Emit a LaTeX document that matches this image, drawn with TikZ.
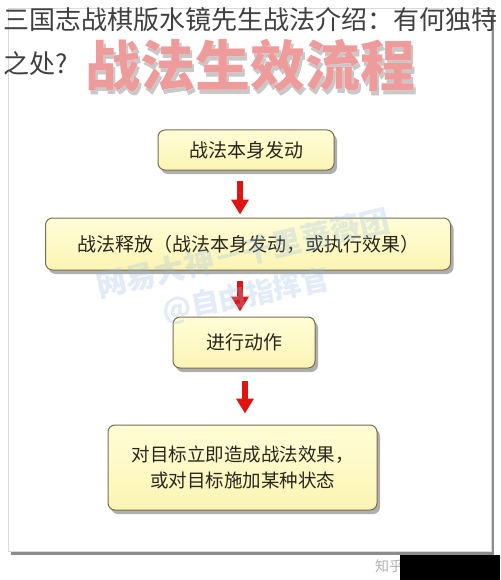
\documentclass[tikz,border=0pt]{standalone}
\usepackage{fontspec}
\usepackage[outline]{contour}
\contourlength{3pt}
\newfontfamily\cjk{Noto Sans CJK SC}
\usetikzlibrary{arrows.meta,shadows,calc}
\definecolor{boxtop}{RGB}{255,253,215}
\definecolor{boxbot}{RGB}{252,244,180}
\definecolor{boxedge}{RGB}{120,110,80}
\definecolor{boxtext}{RGB}{40,38,30}
\definecolor{ttlpink}{RGB}{238,155,155}
\definecolor{ttlshadow}{RGB}{200,200,200}
\definecolor{wmblue}{RGB}{150,190,230}
\definecolor{arrred}{RGB}{225,20,20}
\tikzset{
  flowbox/.style={draw=boxedge, line width=1pt, rounded corners=7pt,
    top color=boxtop, bottom color=boxbot, text=boxtext,
    font=\cjk\fontsize{19}{26}\selectfont, inner sep=0pt, align=center,
    drop shadow={shadow xshift=3pt, shadow yshift=-4pt, opacity=0.45, fill=black!70}},
  redarrow/.style={draw=arrred, line width=6pt, -{Triangle[width=17pt,length=15pt]}},
  ttl/.style={font=\cjk\bfseries\fontsize{55}{60}\selectfont, inner sep=0pt},
  wm/.style={font=\cjk\bfseries\fontsize{30}{32}\selectfont, text=wmblue, opacity=0.28, inner sep=0pt},
  headline/.style={font=\cjk\fontsize{26}{30}\selectfont, text=black!75, inner sep=0pt, anchor=west}
}
\begin{document}
\begin{tikzpicture}[x=1pt,y=-1pt]
\useasboundingbox (0,0) rectangle (500,580);
\fill[white] (0,0) rectangle (500,580);
% panel with shadow
\fill[black!45] (11,11) rectangle (494,555);
\fill[white, draw=black!15] (8,8) rectangle (491,551);
% headline
\node[headline] (h1) at (3,20) {三国志战棋版水镜先生战法介绍：有何独特};
\node[headline] (h2) at (3,64) {之处?};
% pink title with white outline and soft shadow
\node[ttl, text=ttlshadow] (tsh) at (252.5,69.5) {\contour{ttlshadow}{战法生效流程}};
\node[ttl, text=ttlpink] (title) at (250,66) {\contour{white}{战法生效流程}};
% boxes
\node[flowbox, minimum width=176pt, minimum height=40pt] (b1) at (246,150) {战法本身发动};
\node[flowbox, minimum width=405pt, minimum height=52pt] (b2) at (248,244) {战法释放（战法本身发动，或执行效果）};
\node[flowbox, minimum width=142pt, minimum height=51pt] (b3) at (244,342.5) {进行动作};
\node[flowbox, minimum width=269pt, minimum height=85pt, font=\cjk\fontsize{18.5}{26}\selectfont] (b4) at (242.5,467.5) {对目标立即造成战法效果，\\或对目标施加某种状态};
% arrows
\draw[redarrow, shorten <=10pt, shorten >=3pt] ([xshift=-6pt]b1.south) -- ([xshift=-8pt]b2.north);
\draw[redarrow, shorten <=10pt, shorten >=5pt] ([xshift=-8pt]b2.south) -- ([xshift=-4pt]b3.north);
\draw[redarrow, shorten <=12pt, shorten >=11pt] ([xshift=1pt]b3.south) -- ([xshift=2.5pt]b4.north);
% watermark
\node[wm, rotate=13] (wm1) at (243,253) {网易大神－千里蔷薇团};
\node[wm, rotate=11, font=\cjk\bfseries\fontsize{28}{30}\selectfont] (wm2) at (246,296) {@自由指挥官};
% bottom-right mark
\node[font=\cjk\fontsize{14}{16}\selectfont, text=black!30, inner sep=0pt] (zh) at (389,566) {知乎};
\fill[black] (400,555) rectangle (500,580);
\end{tikzpicture}
\end{document}
